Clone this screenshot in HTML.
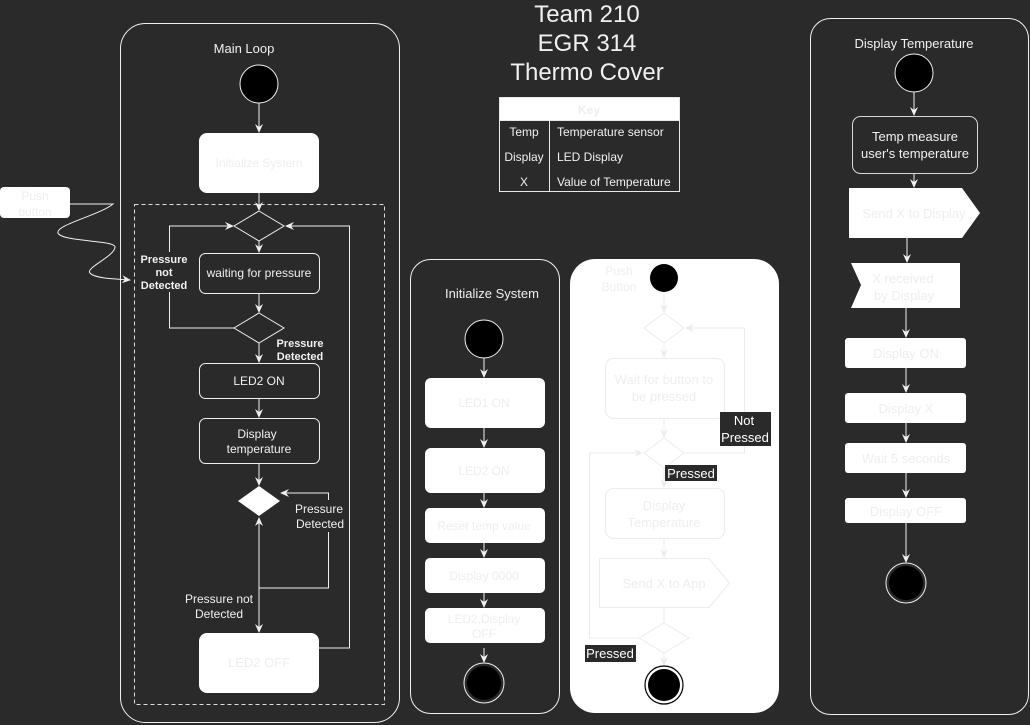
<!DOCTYPE html>
<html><head><meta charset="utf-8"><style>
html,body{margin:0;padding:0;background:#2a2a2a;}
svg{display:block;font-family:"Liberation Sans",Arial,sans-serif;}
</style></head><body>
<svg width="1030" height="725" viewBox="0 0 1030 725" xmlns="http://www.w3.org/2000/svg">
<defs>
<marker id="a" markerWidth="10" markerHeight="10" refX="8" refY="5" orient="auto" markerUnits="userSpaceOnUse"><path d="M0,1 L9,5 L0,9 L3,5 Z" fill="#f0f0f0"/></marker>
<marker id="b" markerWidth="10" markerHeight="10" refX="8" refY="5" orient="auto" markerUnits="userSpaceOnUse"><path d="M0,1 L9,5 L0,9 L3,5 Z" fill="#ececec"/></marker>
</defs>
<rect width="1030" height="725" fill="#2a2a2a"/>

<!-- Title -->
<g fill="#f0f0f0" font-size="24" text-anchor="middle">
<text x="587" y="22">Team 210</text>
<text x="587" y="51">EGR 314</text>
<text x="587" y="80">Thermo Cover</text>
</g>
<!-- Key -->
<rect x="499.5" y="97.5" width="180" height="94" fill="#2a2a2a" stroke="#e8e8e8"/>
<rect x="499.5" y="97.5" width="180" height="23" fill="#fff" stroke="#e8e8e8"/>
<text x="589" y="114" font-size="12" fill="#eeeeee" text-anchor="middle" font-weight="bold">Key</text>
<line x1="549.5" y1="120" x2="549.5" y2="191" stroke="#e8e8e8"/>
<g fill="#f0f0f0" font-size="12">
<text x="524" y="136" text-anchor="middle">Temp</text>
<text x="524" y="161" text-anchor="middle">Display</text>
<text x="524" y="186" text-anchor="middle">X</text>
<text x="557" y="136">Temperature sensor</text>
<text x="557" y="161">LED Display</text>
<text x="557" y="186">Value of Temperature</text>
</g>

<!-- Main Loop -->
<rect x="120.5" y="23.5" width="279" height="699" rx="25" fill="none" stroke="#f0f0f0"/>
<text x="244" y="53" font-size="13" fill="#f0f0f0" text-anchor="middle">Main Loop</text>
<circle cx="259" cy="84" r="19" fill="#000" stroke="#f0f0f0"/>
<line x1="259" y1="103" x2="259" y2="132" stroke="#f0f0f0" marker-end="url(#a)"/>
<rect x="199" y="133" width="120" height="60" rx="8" fill="#fff"/>
<text x="259" y="167" font-size="12" fill="#eeeeee" text-anchor="middle">Initialize System</text>
<rect x="134.5" y="204.5" width="250" height="500" fill="none" stroke="#dcdcdc" stroke-dasharray="4,3"/>
<line x1="259" y1="193" x2="259" y2="210" stroke="#f0f0f0" marker-end="url(#a)"/>
<polygon points="259,211 284,226 259,241 234,226" fill="#2a2a2a" stroke="#f0f0f0"/>
<line x1="259" y1="241" x2="259" y2="252" stroke="#f0f0f0" marker-end="url(#a)"/>
<rect x="199.5" y="253.5" width="120" height="40" rx="6" fill="none" stroke="#f0f0f0"/>
<text x="259" y="277" font-size="12" fill="#f0f0f0" text-anchor="middle">waiting for pressure</text>
<line x1="259" y1="293" x2="259" y2="312" stroke="#f0f0f0" marker-end="url(#a)"/>
<polygon points="259,313 284,328 259,343 234,328" fill="#2a2a2a" stroke="#f0f0f0"/>
<path d="M234,328 H169.5 V226 H233" fill="none" stroke="#f0f0f0" marker-end="url(#a)"/>
<rect x="140" y="252" width="48" height="40" fill="#2a2a2a"/>
<g font-size="11" fill="#f0f0f0" text-anchor="middle" font-weight="bold">
<text x="164" y="263">Pressure</text><text x="164" y="276">not</text><text x="164" y="289">Detected</text>
<text x="300" y="347">Pressure</text><text x="300" y="360">Detected</text>
</g>
<line x1="259" y1="343" x2="259" y2="362" stroke="#f0f0f0" marker-end="url(#a)"/>
<rect x="199.5" y="363.5" width="120" height="35" rx="6" fill="none" stroke="#f0f0f0"/>
<text x="259" y="385" font-size="12" fill="#f0f0f0" text-anchor="middle">LED2 ON</text>
<line x1="259" y1="398" x2="259" y2="417" stroke="#f0f0f0" marker-end="url(#a)"/>
<rect x="199.5" y="418.5" width="120" height="45" rx="6" fill="none" stroke="#f0f0f0"/>
<text x="257" y="438" font-size="12" fill="#f0f0f0" text-anchor="middle">Display</text>
<text x="259" y="453" font-size="12" fill="#f0f0f0" text-anchor="middle">temperature</text>
<line x1="259" y1="463" x2="259" y2="485" stroke="#f0f0f0" marker-end="url(#a)"/>
<polygon points="259,486 280,501 259,516 238,501" fill="#fff"/>
<path d="M259,588 H328.5 V493 H281" fill="none" stroke="#f0f0f0" marker-end="url(#a)"/>
<rect x="292" y="500" width="56" height="32" fill="#2a2a2a"/>
<g font-size="12" fill="#f0f0f0" text-anchor="middle">
<text x="319" y="513">Pressure</text><text x="320" y="528">Detected</text>
<text x="219" y="603">Pressure not</text><text x="219" y="618">Detected</text>
</g>
<line x1="259" y1="588" x2="259" y2="518" stroke="#f0f0f0" marker-end="url(#a)"/>
<line x1="259" y1="588" x2="259" y2="632" stroke="#f0f0f0" marker-end="url(#a)"/>
<rect x="199" y="633" width="120" height="60" rx="8" fill="#fff"/>
<text x="259" y="667" font-size="13" fill="#eeeeee" text-anchor="middle">LED2 OFF</text>
<path d="M319,648 H349.5 V226 H286" fill="none" stroke="#f0f0f0" marker-end="url(#a)"/>
<!-- Push button -->
<rect x="0" y="187" width="70" height="31" rx="4" fill="#fff"/>
<text x="35" y="200" font-size="12" fill="#eeeeee" text-anchor="middle">Push</text>
<text x="35" y="216" font-size="12" fill="#eeeeee" text-anchor="middle">button</text>
<path d="M70,204 H113 C100,215 55,225 58,233 C62,242 115,240 115,247 C115,256 85,268 90,273 C95,279 120,279 130,280" fill="none" stroke="#f0f0f0" marker-end="url(#a)"/>

<!-- Initialize System -->
<rect x="410.5" y="259.5" width="149" height="454" rx="20" fill="none" stroke="#f0f0f0"/>
<text x="492" y="298" font-size="13" fill="#f0f0f0" text-anchor="middle">Initialize System</text>
<circle cx="484" cy="339" r="19" fill="#000" stroke="#f0f0f0"/>
<g stroke="#f0f0f0">
<line x1="484" y1="358" x2="484" y2="377" marker-end="url(#a)"/>
<line x1="484" y1="428" x2="484" y2="447" marker-end="url(#a)"/>
<line x1="484" y1="493" x2="484" y2="507" marker-end="url(#a)"/>
<line x1="484" y1="543" x2="484" y2="557" marker-end="url(#a)"/>
<line x1="484" y1="593" x2="484" y2="607" marker-end="url(#a)"/>
<line x1="484" y1="648" x2="484" y2="662" marker-end="url(#a)"/>
</g>
<g fill="#fff">
<rect x="425" y="378" width="120" height="50" rx="6"/>
<rect x="425" y="448" width="120" height="45" rx="6"/>
<rect x="425" y="508" width="120" height="35" rx="5"/>
<rect x="425" y="558" width="120" height="35" rx="5"/>
<rect x="425" y="608" width="120" height="35" rx="5"/>
</g>
<g font-size="12" fill="#eeeeee" text-anchor="middle">
<text x="484" y="407">LED1 ON</text>
<text x="484" y="475">LED2 ON</text>
<text x="484" y="530">Reset temp value</text>
<text x="484" y="580">Display 0000</text>
<text x="484" y="623">LED2,Display</text>
<text x="484" y="638">OFF</text>
</g>
<circle cx="484" cy="683" r="20" fill="#2a2a2a" stroke="#f0f0f0"/>
<circle cx="484" cy="683" r="17" fill="#000"/>

<!-- Push Button container -->
<rect x="570" y="259" width="209" height="454" rx="25" fill="#fff"/>
<text x="619" y="275" font-size="12" fill="#eeeeee" text-anchor="middle">Push</text>
<text x="619" y="291" font-size="12" fill="#eeeeee" text-anchor="middle">Button</text>
<circle cx="664" cy="278" r="14" fill="#000"/>
<g stroke="#ececec" fill="none">
<line x1="664" y1="292" x2="664" y2="312" marker-end="url(#b)"/>
<polygon points="664,313 684,328 664,343 644,328"/>
<line x1="664" y1="343" x2="664" y2="357" marker-end="url(#b)"/>
<rect x="605.5" y="358.5" width="119" height="60" rx="8"/>
<line x1="664" y1="418" x2="664" y2="437" marker-end="url(#b)"/>
<polygon points="664,438 684,453 664,468 644,453"/>
<path d="M684,453 H744.5 V328 H686" marker-end="url(#b)"/>
<line x1="664" y1="468" x2="664" y2="487" marker-end="url(#b)"/>
<rect x="605.5" y="488.5" width="119" height="50" rx="8"/>
<line x1="664" y1="538" x2="664" y2="557" marker-end="url(#b)"/>
<polygon points="599.5,558.5 709,558.5 729.5,583 709,607.5 599.5,607.5"/>
<line x1="664" y1="608" x2="664" y2="622"/>
<polygon points="664,623 689,638 664,653 639,638"/>
<path d="M639,638 H589.5 V453 H642" marker-end="url(#b)"/>
<line x1="664" y1="653" x2="664" y2="665" marker-end="url(#b)"/>
</g>
<g font-size="13" fill="#eeeeee" text-anchor="middle">
<text x="664" y="384">Wait for button to</text>
<text x="664" y="401">be pressed</text>
<text x="664" y="510">Display</text>
<text x="664" y="527">Temperature</text>
<text x="664" y="588">Send X to App</text>
</g>
<rect x="720" y="412" width="51" height="34" fill="#2a2a2a"/>
<text x="744" y="425" font-size="13" fill="#fff" text-anchor="middle">Not</text>
<text x="745" y="442" font-size="13" fill="#fff" text-anchor="middle">Pressed</text>
<rect x="665" y="465" width="52" height="16" fill="#2a2a2a"/>
<text x="691" y="478" font-size="13" fill="#fff" text-anchor="middle">Pressed</text>
<rect x="585" y="645" width="51" height="17" fill="#2a2a2a"/>
<text x="610" y="658" font-size="13" fill="#fff" text-anchor="middle">Pressed</text>
<circle cx="664" cy="685" r="19" fill="#fff" stroke="#000" stroke-width="1.2"/>
<circle cx="664" cy="685" r="16" fill="#000"/>

<!-- Display Temperature -->
<rect x="810.5" y="18.5" width="218" height="696" rx="20" fill="none" stroke="#f0f0f0"/>
<text x="914" y="48" font-size="13" fill="#f0f0f0" text-anchor="middle">Display Temperature</text>
<circle cx="914" cy="73" r="19" fill="#000" stroke="#f0f0f0"/>
<g stroke="#f0f0f0">
<line x1="914" y1="92" x2="914" y2="115" marker-end="url(#a)"/>
<line x1="914" y1="173" x2="914" y2="187" marker-end="url(#a)"/>
<line x1="907" y1="238" x2="907" y2="262" marker-end="url(#a)"/>
<line x1="906" y1="308" x2="906" y2="337" marker-end="url(#a)"/>
<line x1="906" y1="368" x2="906" y2="392" marker-end="url(#a)"/>
<line x1="906" y1="423" x2="906" y2="442" marker-end="url(#a)"/>
<line x1="906" y1="473" x2="906" y2="497" marker-end="url(#a)"/>
<line x1="906" y1="523" x2="906" y2="562" marker-end="url(#a)"/>
</g>
<rect x="852.5" y="116.5" width="125" height="57" rx="8" fill="#2a2a2a" stroke="#d8d8d8"/>
<text x="915" y="141" font-size="13" fill="#f0f0f0" text-anchor="middle">Temp measure</text>
<text x="915" y="158" font-size="13" fill="#f0f0f0" text-anchor="middle">user's temperature</text>
<polygon points="849,188 962,188 980,213 962,238 849,238" fill="#fff"/>
<text x="914" y="218" font-size="13" fill="#eeeeee" text-anchor="middle">Send X to Display</text>
<polygon points="851,263 960,263 960,308 851,308 861,285" fill="#fff"/>
<text x="903" y="283" font-size="13" fill="#eeeeee" text-anchor="middle">X received</text>
<text x="904" y="300" font-size="13" fill="#eeeeee" text-anchor="middle">by Display</text>
<g fill="#fff">
<rect x="845" y="338" width="121" height="30" rx="3"/>
<rect x="845" y="393" width="121" height="30" rx="3"/>
<rect x="845" y="443" width="121" height="30" rx="3"/>
<rect x="845" y="498" width="121" height="25" rx="3"/>
</g>
<g font-size="13" fill="#eeeeee" text-anchor="middle">
<text x="906" y="358">Display ON</text>
<text x="906" y="413">Display X</text>
<text x="906" y="463">Wait 5 seconds</text>
<text x="906" y="516">Display OFF</text>
</g>
<circle cx="906" cy="583" r="20" fill="#2a2a2a" stroke="#f0f0f0"/>
<circle cx="906" cy="583" r="17" fill="#000"/>
</svg>
</body></html>
